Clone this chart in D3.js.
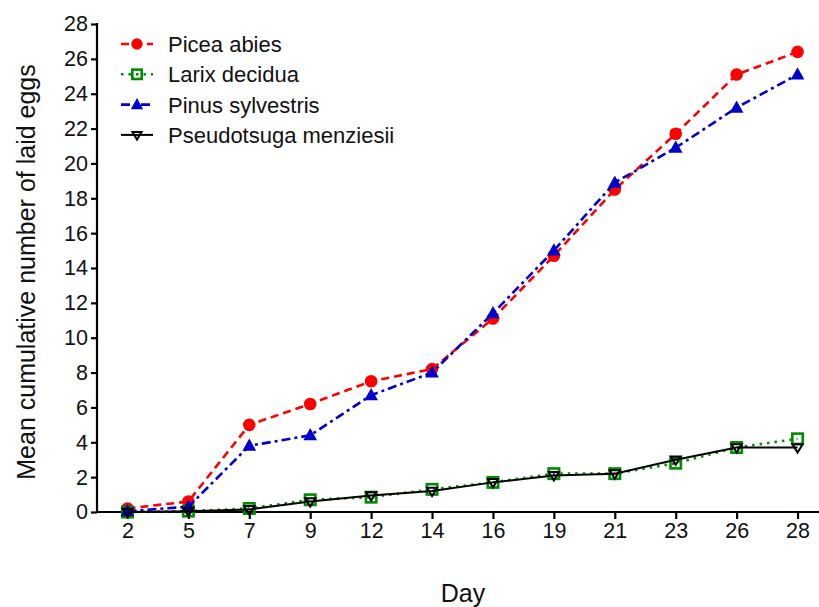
<!DOCTYPE html>
<html><head><meta charset="utf-8">
<script src="https://cdn.jsdelivr.net/npm/d3@7"></script>
<style>body{margin:0;background:#fff;}svg{display:block;font-family:"Liberation Sans",Arial,sans-serif;}</style>
</head><body>
<svg id="c" width="819" height="607"></svg>
<script>
const days = ["2","5","7","9","12","14","16","19","21","23","26","28"];
const yTicks = [0,2,4,6,8,10,12,14,16,18,20,22,24,26,28];
const piceaAbies = [0.2,0.6,5.0,6.2,7.5,8.2,11.1,14.7,18.5,21.7,25.1,26.4];
const larixDecidua = [0.0,0.05,0.2,0.7,0.85,1.3,1.7,2.2,2.2,2.8,3.7,4.2];
const pinusSylvestris = [0.05,0.3,3.8,4.4,6.7,8.0,11.4,15.0,18.9,20.9,23.2,25.1];
const pseudotsugaMenziesii = [0.0,0.05,0.15,0.6,0.95,1.2,1.7,2.1,2.2,3.0,3.7,3.7];
const seriesNames = ["Picea abies","Larix decidua","Pinus sylvestris","Pseudotsuga menziesii"];

const series = [
  {name:seriesNames[0], values:piceaAbies, color:"#ff0000", dash:"8,5", sym:"circle", width:2.6},
  {name:seriesNames[1], values:larixDecidua, color:"#008c00", dash:"2.5,5", sym:"square", width:2.6},
  {name:seriesNames[2], values:pinusSylvestris, color:"#0000cc", dash:"9,4,3,4", sym:"triangle", width:2.6},
  {name:seriesNames[3], values:pseudotsugaMenziesii, color:"#000000", dash:null, sym:"down", width:2}
];

const svg = d3.select("#c");
const x = d3.scalePoint().domain(days).range([97, 828]).padding(0.5);
const y = d3.scaleLinear().domain([0,28]).range([512,24]);

// axes
const xa = svg.append("g").attr("transform","translate(0,512)")
  .call(d3.axisBottom(x).tickSizeOuter(0).tickSize(7).tickPadding(4));
const ya = svg.append("g").attr("transform","translate(97,0)")
  .call(d3.axisLeft(y).tickValues(yTicks).tickSizeOuter(0).tickSize(6).tickPadding(3));
[xa,ya].forEach(a=>{
  a.selectAll("path,line").attr("stroke","#000").attr("stroke-width",2.2);
  a.selectAll("text").attr("fill","#111").style("font-size","21.5px").style("font-family","Liberation Sans, Arial, sans-serif");
});
xa.select(".domain").attr("d","M97,0H819");
ya.select(".domain").attr("d","M0,512V23");

svg.append("text").attr("x",463).attr("y",602).attr("text-anchor","middle")
  .style("font-size","25px").attr("fill","#111").text("Day");
svg.append("text").attr("transform","translate(35,272) rotate(-90)").attr("text-anchor","middle")
  .style("font-size","25px").attr("fill","#111").text("Mean cumulative number of laid eggs");

function drawSym(g, s, cx, cy, scale){
  scale = scale||1;
  if(s.sym==="circle"){
    g.append("circle").attr("cx",cx).attr("cy",cy).attr("r",6.3*scale).attr("fill",s.color);
  } else if(s.sym==="square"){
    const h=5.2*scale;
    g.append("rect").attr("x",cx-h).attr("y",cy-h).attr("width",2*h).attr("height",2*h)
      .attr("fill","none").attr("stroke",s.color).attr("stroke-width",2.6);
  } else if(s.sym==="triangle"){
    const h=7.2*scale;
    g.append("path").attr("d",`M${cx},${cy-h}L${cx+h*0.95},${cy+h*0.7}L${cx-h*0.95},${cy+h*0.7}Z`).attr("fill",s.color);
  } else {
    const h=6*scale;
    g.append("path").attr("d",`M${cx-h*0.85},${cy-h*0.55}L${cx+h*0.85},${cy-h*0.55}L${cx},${cy+h*0.85}Z`)
      .attr("fill","none").attr("stroke",s.color).attr("stroke-width",2);
  }
}

const line = d3.line().x((d,i)=>x(days[i])).y(d=>y(d));
series.forEach(s=>{
  const g = svg.append("g");
  g.append("path").datum(s.values).attr("d",line).attr("fill","none")
    .attr("stroke",s.color).attr("stroke-width",s.width)
    .attr("stroke-dasharray",s.dash);
  s.values.forEach((v,i)=>drawSym(g,s,x(days[i]),y(v)));
});

// legend
const lg = svg.append("g");
series.forEach((s,i)=>{
  const cy = 44 + i*30.3;
  const g = lg.append("g");
  g.append("line").attr("x1",121).attr("x2",153).attr("y1",cy).attr("y2",cy)
    .attr("stroke",s.color).attr("stroke-width",s.width).attr("stroke-dasharray",s.dash);
  drawSym(g,s,137,cy,0.9);
  g.append("text").attr("x",168).attr("y",cy+8).style("font-size","22px").attr("fill","#111").text(s.name);
});
</script>
</body></html>
